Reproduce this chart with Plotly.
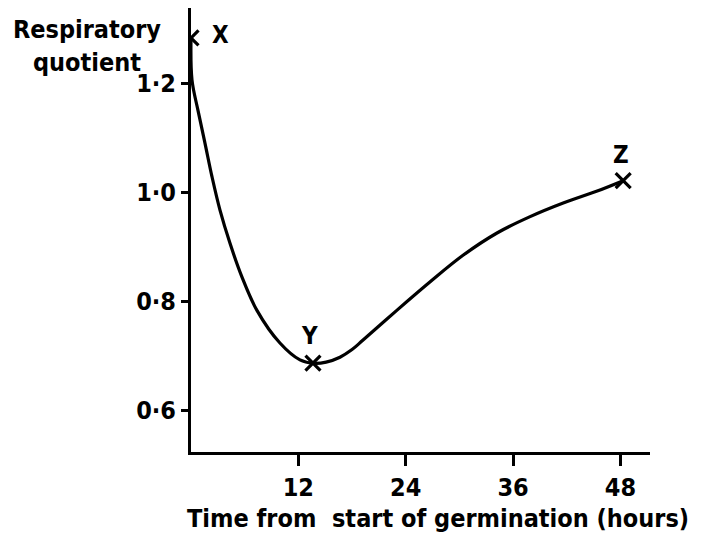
import plotly.graph_objects as go

# Curve (time in hours, respiratory quotient)
curve_time = [0.0, 0.11, 0.78, 1.56, 2.35, 3.24, 4.36, 5.70, 7.37, 9.94, 12.18, 13.63,
              15.1, 16.65, 18.0, 19.2, 23.0, 26.7, 30.4, 34.2, 37.9, 41.6, 45.4, 48.3]
curve_rq = [1.283, 1.206, 1.150, 1.090, 1.028, 0.967, 0.906, 0.844, 0.783, 0.723, 0.692, 0.686,
            0.688, 0.697, 0.711, 0.728, 0.783, 0.835, 0.884, 0.925, 0.955, 0.980, 1.002, 1.021]

# Labelled points
point_labels = ["X", "Y", "Z"]
point_time = [0.0, 13.63, 48.3]
point_rq = [1.283, 0.686, 1.021]

x_ticks = [12, 24, 36, 48]
x_ticktext = ["12", "24", "36", "48"]
y_ticks = [0.6, 0.8, 1.0, 1.2]
y_ticktext = ["0·6", "0·8", "1·0", "1·2"]

FONT = "DejaVu Sans Condensed"

fig = go.Figure()
fig.add_trace(go.Scatter(x=curve_time, y=curve_rq, mode="lines",
                         line=dict(color="black", width=3.2, shape="spline", smoothing=1.0),
                         hoverinfo="skip"))
fig.add_trace(go.Scatter(x=point_time, y=point_rq, mode="markers",
                         marker=dict(symbol="x-thin", size=15, line=dict(color="black", width=3.2)),
                         hoverinfo="skip"))

label_offsets = {"X": (29, 3), "Y": (-3, 27), "Z": (-2, 26)}
for lab, t, v in zip(point_labels, point_time, point_rq):
    dx, dy = label_offsets[lab]
    fig.add_annotation(x=t, y=v, text=lab, showarrow=False, xshift=dx, yshift=dy,
                       xanchor="center", yanchor="middle",
                       font=dict(family=FONT, size=24, color="black", weight="bold"))

fig.add_annotation(xref="paper", yref="paper", x=0.538, y=-0.149,
                   xanchor="center", yanchor="middle",
                   text="Time from  start of germination (hours)", showarrow=False,
                   font=dict(family=FONT, size=25, color="black", weight="bold"))
fig.add_annotation(xref="paper", yref="paper", x=-0.227, y=0.914,
                   xanchor="center", yanchor="middle",
                   text="Respiratory<br>quotient", showarrow=False, align="center",
                   font=dict(family=FONT, size=25, color="black", weight="bold"))

fig.update_layout(
    width=712, height=526,
    margin=dict(l=183, r=70, t=0, b=82),
    plot_bgcolor="white", paper_bgcolor="white",
    showlegend=False,
    xaxis=dict(range=[0, 51.3], tickvals=x_ticks, ticktext=x_ticktext,
               showgrid=False, zeroline=False, showline=True, linecolor="black", linewidth=3,
               ticks="outside", ticklen=11, tickwidth=3, tickcolor="black",
               tickfont=dict(family=FONT, size=25, color="black", weight="bold")),
    yaxis=dict(range=[0.523, 1.338], tickvals=y_ticks, ticktext=y_ticktext,
               showgrid=False, zeroline=False, showline=True, linecolor="black", linewidth=3,
               ticks="outside", ticklen=7, tickwidth=2.5, tickcolor="black",
               tickfont=dict(family=FONT, size=25, color="black", weight="bold")),
)

fig.write_html("out.html")
